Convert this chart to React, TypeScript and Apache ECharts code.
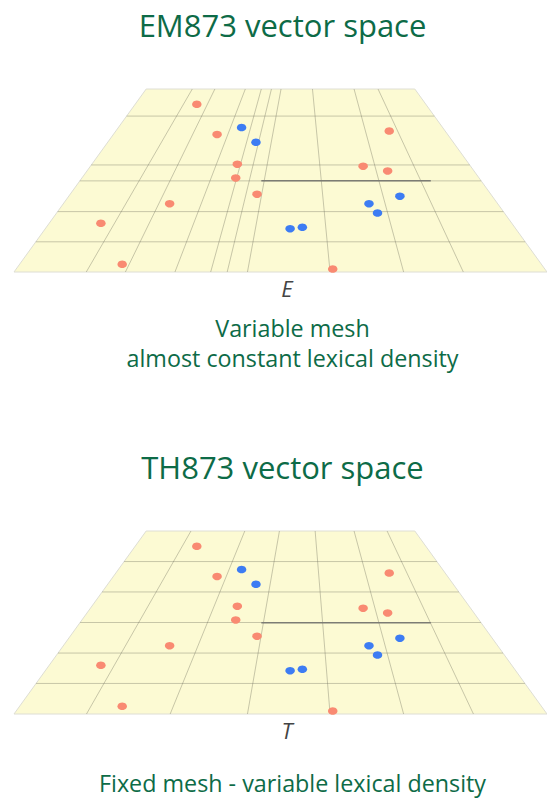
import React, { useEffect, useRef } from "react";
import * as echarts from "echarts";

// Plane coordinates: u runs 0..100 along the front edge, v runs 0 (front) .. 100 (back)
const PLANE_CORNERS: number[][] = [[0, 0], [100, 0], [75.2, 100], [24.8, 100]];
const TOP_LEFT_U = 24.8;
const TOP_RIGHT_U = 75.2;

// Variable mesh (E): vertical lines as [u at back edge, u at front edge]
const MESH_E_VERTICAL: number[][] = [
  [33.45, 13.56], [37.69, 20.9], [43.4, 30.2], [46.4, 36.9], [48.3, 40.0],
  [50.1, 43.8], [56.0, 59.3], [63.8, 73.1], [68.3, 84.3],
];
const MESH_E_HORIZONTAL: number[] = [16.5, 33.0, 49.8, 58.5, 85.2];

// Fixed mesh (T)
const MESH_T_VERTICAL: number[][] = [
  [33.2, 13.6], [43.3, 29.3], [49.8, 43.8], [56.5, 59.3], [63.8, 73.1], [70.0, 86.2],
];
const MESH_T_HORIZONTAL: number[] = [16.7, 33.3, 50.0, 66.7, 83.3];

// Dark reference segment
const SEGMENT: number[][] = [[46.4, 49.8], [78.2, 49.8]];

// Points [u, v]
const RED_POINTS: number[][] = [
  [34.3, 91.6], [38.1, 75.2], [41.9, 58.9], [41.6, 51.4], [45.6, 42.5], [29.2, 37.3],
  [16.3, 26.6], [20.3, 4.2], [70.4, 77.0], [65.5, 57.8], [70.1, 55.2], [59.8, 1.6],
];
const BLUE_POINTS: number[][] = [
  [42.7, 78.9], [45.4, 70.9], [72.4, 41.4], [66.6, 37.3], [68.2, 32.2], [51.8, 23.7], [54.1, 24.4],
];

const TITLES = ["EM873 vector space", "TH873 vector space"];
const AXIS_LABELS = ["E", "T"];
const CAPTIONS = ["Variable mesh", "almost constant lexical density", "Fixed mesh - variable lexical density"];

const GREEN = "#0d6b47";
const RED = "#f98a72";
const BLUE = "#3d7cf3";
const PLANE_FILL = "#fcfad3";
const MESH_COLOR = "rgba(105,105,90,0.36)";
const FONT = '"Open Sans", "Noto Sans", sans-serif';

function planeSeries(gi: number, vert: number[][], horiz: number[]) {
  return [
    {
      type: "custom",
      xAxisIndex: gi,
      yAxisIndex: gi,
      silent: true,
      z: 1,
      data: [[50, 50]],
      renderItem: (_p: any, api: any) => ({
        type: "polygon",
        shape: { points: PLANE_CORNERS.map((c) => api.coord(c)) },
        style: { fill: PLANE_FILL, stroke: "#deded4", lineWidth: 1 },
      }),
    },
    {
      type: "custom",
      xAxisIndex: gi,
      yAxisIndex: gi,
      silent: true,
      z: 2,
      data: vert,
      renderItem: (_p: any, api: any) => {
        const t = api.coord([api.value(0), 100]);
        const b = api.coord([api.value(1), 0]);
        return {
          type: "line",
          shape: { x1: t[0], y1: t[1], x2: b[0], y2: b[1] },
          style: { stroke: MESH_COLOR, lineWidth: 1 },
        };
      },
    },
    {
      type: "custom",
      xAxisIndex: gi,
      yAxisIndex: gi,
      silent: true,
      z: 2,
      data: horiz.map((v) => [50, v]),
      renderItem: (_p: any, api: any) => {
        const v = api.value(1);
        const uL = (TOP_LEFT_U * v) / 100;
        const uR = 100 - ((100 - TOP_RIGHT_U) * v) / 100;
        const a = api.coord([uL, v]);
        const b = api.coord([uR, v]);
        return {
          type: "line",
          shape: { x1: a[0], y1: a[1], x2: b[0], y2: b[1] },
          style: { stroke: MESH_COLOR, lineWidth: 1 },
        };
      },
    },
    {
      type: "line",
      xAxisIndex: gi,
      yAxisIndex: gi,
      silent: true,
      z: 3,
      symbol: "none",
      data: SEGMENT,
      lineStyle: { color: "#7c7c74", width: 1.5 },
    },
    {
      type: "scatter",
      xAxisIndex: gi,
      yAxisIndex: gi,
      z: 4,
      symbolSize: [9.5, 7.5],
      data: RED_POINTS,
      itemStyle: { color: RED, opacity: 1 },
    },
    {
      type: "scatter",
      xAxisIndex: gi,
      yAxisIndex: gi,
      z: 4,
      symbolSize: [9.5, 7.5],
      data: BLUE_POINTS,
      itemStyle: { color: BLUE, opacity: 1 },
    },
  ];
}

function txt(text: string, x: number, y: number, size: number, fill: string, italic = false) {
  return {
    type: "text",
    x,
    y,
    silent: true,
    style: {
      text,
      fontSize: size,
      fontFamily: FONT,
      fontStyle: italic ? "italic" : "normal",
      fill,
      align: "center",
      verticalAlign: "middle",
    },
  };
}

export default function App() {
  const ref = useRef<HTMLDivElement>(null);
  useEffect(() => {
    document.body.style.margin = "0";
    const chart = echarts.init(ref.current!, null, { renderer: "svg" });
    const axisCommon = { show: false, min: 0, max: 100, splitLine: { show: false } };
    chart.setOption({
      animation: false,
      backgroundColor: "#ffffff",
      grid: [
        { left: 14, width: 536, top: 89, height: 183 },
        { left: 14, width: 536, top: 531, height: 183 },
      ],
      xAxis: [
        { ...axisCommon, type: "value", gridIndex: 0 },
        { ...axisCommon, type: "value", gridIndex: 1 },
      ],
      yAxis: [
        { ...axisCommon, type: "value", gridIndex: 0 },
        { ...axisCommon, type: "value", gridIndex: 1 },
      ],
      series: [
        ...planeSeries(0, MESH_E_VERTICAL, MESH_E_HORIZONTAL),
        ...planeSeries(1, MESH_T_VERTICAL, MESH_T_HORIZONTAL),
      ],
      graphic: [
        txt(TITLES[0], 282.5, 25, 31, GREEN),
        txt(AXIS_LABELS[0], 287, 288, 22, "#444444", true),
        txt(CAPTIONS[0], 292.5, 328, 23.3, GREEN),
        txt(CAPTIONS[1], 292.5, 358, 23.3, GREEN),
        txt(TITLES[1], 282.5, 467, 31, GREEN),
        txt(AXIS_LABELS[1], 287, 730, 22, "#444444", true),
        txt(CAPTIONS[2], 292.5, 783, 23.3, GREEN),
      ],
    });
    return () => chart.dispose();
  }, []);
  return (
    <div
      ref={ref}
      style={{ position: "absolute", left: 0, top: 0, width: 547, height: 798 }}
    />
  );
}
